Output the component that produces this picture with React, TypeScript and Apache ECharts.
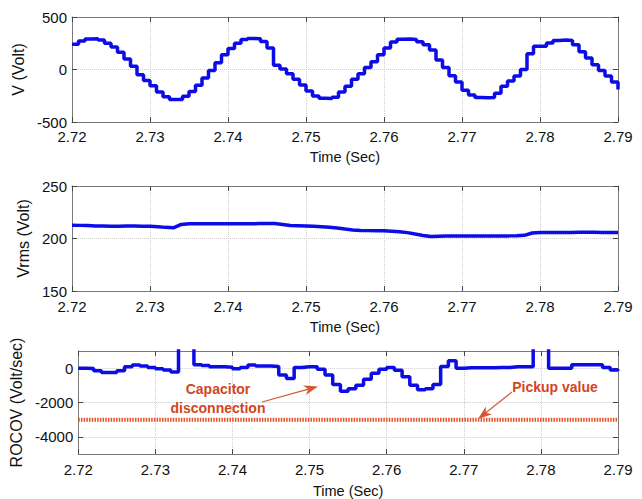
import React, { useEffect, useRef } from "react";
import * as echarts from "echarts";

// Time axis (seconds)
const T_START = 2.72;
const T_END = 2.79;
const T_STEP = 0.01;

// Sampled phase voltage, one value per 1/1200 s from 2.72 s
const V_DT = 1 / 1200;
const voltage = [
  240, 272, 290, 292, 280, 250, 215, 165, 100, 30, -50, -105, -155, -215, -260, -285, -285, -255, -210, -150, -80, -10,
  65, 140, 200, 250, 285, 295, 292, 267, 204, 40, 5, -40, -94, -148, -204, -252, -274, -276, -265, -215, -160, -94, -41,
  20, 75, 140, 204, 261, 289, 290, 285, 265, 235, 185, 90, 20, -60, -120, -198, -242, -267, -270, -267, -225, -160, -110,
  -63, 0, 150, 222, 222, 252, 277, 280, 277, 235, 170, 110, 45, -10, -63, -120, -190,
];

// RMS voltage and its rate of change, one value per 1 ms from 2.72 s
const MS_DT = 0.001;
const vrms = [
  212.6, 212.5, 212.3, 212.0, 211.8, 211.6, 211.7, 211.8, 211.8, 211.7, 211.6, 211.2, 210.6, 210.2, 213.4, 214.0, 214.0,
  214.1, 214.1, 214.0, 214.0, 214.0, 214.1, 214.1, 214.2, 214.3, 214.2, 213.4, 212.3, 212.1, 211.9, 211.6, 211.3, 210.8,
  210.0, 209.0, 208.2, 207.7, 207.5, 207.4, 207.3, 207.0, 206.5, 205.6, 204.2, 202.9, 202.0, 202.2, 202.3, 202.3, 202.3,
  202.3, 202.4, 202.4, 202.4, 202.5, 202.5, 202.6, 203.0, 205.2, 205.6, 205.7, 205.7, 205.8, 205.8, 205.9, 205.9, 205.9,
  205.8, 205.7, 205.6,
];
const rocov = [
  0, -20, -150, -250, -250, -150, 80, 180, 120, 40, -30, -100, -220, 5000, 5000, 200, 150, 80, 80, 60, -40, 40, 180, 120,
  120, 100, -400, -600, 40, 80, 80, -60, -400, -950, -1350, -1200, -1000, -650, -300, -60, 40, -120, -500, -1000, -1250,
  -1200, -950, 100, 430, 0, 20, 20, 20, 20, 40, 40, 80, 80, 80, 5000, 5000, 0, 0, 0, 200, 200, 200, 200, 40, -100, -150,
];
const pickupValue = -3000;

// Y-axis ranges and ticks
const vRange = { min: -500, max: 500, interval: 500 };
const rmsRange = { min: 150, max: 250, interval: 50 };
const rocovRange = { min: -5000, max: 1000 };
const rocovTicks = [-4000, -2000, 0];

const FONT = "'Liberation Sans', Arial, Helvetica, sans-serif";
const BLUE = "#0c0ce6";
const NOTE = "#d2461d";
const FRAME = "#7a7a7a";
const TEXT = "#111";

const toPairs = (vals: number[], dt: number) => vals.map((v, i) => [T_START + i * dt, v]);

const grids = [
  { left: 72, top: 17, width: 546, height: 105 },
  { left: 72, top: 186, width: 546, height: 105 },
  { left: 72, top: 351, width: 546, height: 103 },
];

function xAxes(gridIndex: number, labelMargin: number, nameGap: number) {
  const common = {
    type: "value",
    gridIndex,
    min: T_START,
    max: T_END,
    interval: T_STEP,
    axisLine: { show: true, onZero: false, lineStyle: { color: FRAME, width: 1 } },
    axisTick: { show: true, inside: true, length: 5, lineStyle: { color: "#444" } },
  };
  return [
    {
      ...common,
      position: "bottom",
      name: "Time (Sec)",
      nameLocation: "middle",
      nameGap,
      nameTextStyle: { fontSize: 14.5, color: TEXT, fontFamily: FONT },
      axisLabel: {
        fontSize: 15,
        color: TEXT,
        fontFamily: FONT,
        margin: labelMargin,
        formatter: (v: number) => v.toFixed(2),
      },
      splitLine: { show: true, lineStyle: { color: "#cdcdcd", type: "dotted", width: 1 } },
    },
    {
      ...common,
      position: "top",
      axisLabel: { show: false },
      splitLine: { show: false },
    },
  ];
}

function yAxes(gridIndex: number, name: string, nameGap: number, range: any, ticks?: number[]) {
  const tickOpt: any = { show: true, inside: true, length: 5, lineStyle: { color: "#444" } };
  if (ticks) tickOpt.customValues = ticks;
  const common = {
    type: "value",
    gridIndex,
    ...range,
    axisLine: { show: true, onZero: false, lineStyle: { color: FRAME, width: 1 } },
    axisTick: tickOpt,
  };
  const label: any = {
    fontSize: 15,
    color: TEXT,
    fontFamily: FONT,
    margin: 5,
    formatter: (v: number) => String(Math.round(v)),
  };
  if (ticks) label.customValues = ticks;
  return [
    {
      ...common,
      position: "left",
      name,
      nameLocation: "middle",
      nameGap,
      nameTextStyle: { fontSize: 16, color: TEXT, fontFamily: FONT },
      axisLabel: label,
      splitLine: { show: true, lineStyle: { color: "#cdcdcd", type: "dotted", width: 1 } },
    },
    {
      ...common,
      position: "right",
      axisLabel: { show: false },
      splitLine: { show: false },
    },
  ];
}

function arrow(tail: number[], tip: number[], color: string) {
  const dx = tip[0] - tail[0];
  const dy = tip[1] - tail[1];
  const len = Math.hypot(dx, dy);
  const ux = dx / len;
  const uy = dy / len;
  const nx = -uy;
  const ny = ux;
  const headLen = 14;
  const half = 5;
  const bx = tip[0] - headLen * ux;
  const by = tip[1] - headLen * uy;
  const notchX = tip[0] - 10 * ux;
  const notchY = tip[1] - 10 * uy;
  return [
    {
      type: "line",
      shape: { x1: tail[0], y1: tail[1], x2: notchX, y2: notchY },
      style: { stroke: color, lineWidth: 1.2 },
      z: 10,
    },
    {
      type: "polygon",
      shape: {
        points: [
          tip,
          [bx + half * nx, by + half * ny],
          [notchX, notchY],
          [bx - half * nx, by - half * ny],
        ],
      },
      style: { fill: color },
      z: 10,
    },
  ];
}

export default function App() {
  const ref = useRef<HTMLDivElement>(null);

  useEffect(() => {
    if (!ref.current) return;
    const chart = echarts.init(ref.current, null, { renderer: "svg" });

    const noteText = (text: string, x: number, y: number) => ({
      type: "text",
      x,
      y,
      z: 10,
      style: {
        text,
        fill: NOTE,
        font: `bold 14px ${FONT}`,
        textAlign: "center",
        textVerticalAlign: "middle",
      },
    });

    chart.setOption({
      animation: false,
      backgroundColor: "#ffffff",
      grid: grids,
      xAxis: [...xAxes(0, 7, 27), ...xAxes(1, 8, 28), ...xAxes(2, 8, 29)],
      yAxis: [
        ...yAxes(0, "V (Volt)", 38, vRange),
        ...yAxes(1, "Vrms (Volt)", 30, rmsRange),
        ...yAxes(2, "ROCOV (Volt/sec)", 44, rocovRange, rocovTicks),
      ],
      series: [
        {
          type: "line",
          xAxisIndex: 0,
          yAxisIndex: 0,
          data: toPairs(voltage, V_DT),
          step: "end",
          showSymbol: false,
          clip: true,
          lineStyle: { color: BLUE, width: 3.5 },
        },
        {
          type: "line",
          xAxisIndex: 2,
          yAxisIndex: 2,
          data: toPairs(vrms, MS_DT),
          showSymbol: false,
          clip: true,
          lineStyle: { color: BLUE, width: 3.5 },
        },
        {
          type: "line",
          xAxisIndex: 4,
          yAxisIndex: 4,
          data: [
            [T_START, pickupValue],
            [T_END, pickupValue],
          ],
          showSymbol: false,
          lineStyle: { color: "#e2532b", width: 4, type: [1.5, 1.2] },
        },
        {
          type: "line",
          xAxisIndex: 4,
          yAxisIndex: 4,
          data: toPairs(rocov, MS_DT),
          step: "end",
          showSymbol: false,
          clip: true,
          lineStyle: { color: BLUE, width: 3.5 },
        },
      ],
      graphic: [
        noteText("Capacitor", 218, 389),
        noteText("disconnection", 218, 408),
        noteText("Pickup value", 555, 386.5),
        ...arrow([262, 402], [318, 386.5], "#d4572e"),
        ...arrow([512, 392], [478, 419], "#d4572e"),
      ],
    });

    return () => chart.dispose();
  }, []);

  return (
    <div
      ref={ref}
      style={{ position: "fixed", left: 0, top: 0, width: 642, height: 499, background: "#fff" }}
    />
  );
}
